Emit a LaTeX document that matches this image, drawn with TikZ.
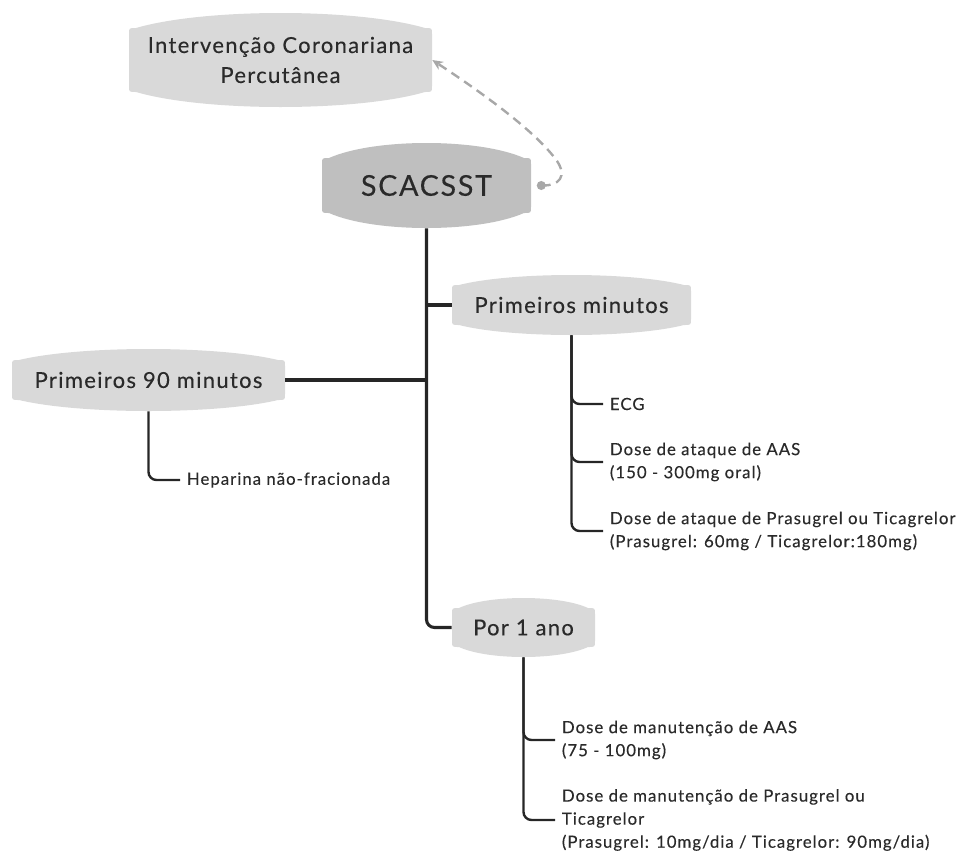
\documentclass[tikz,border=0pt]{standalone}
\usepackage{fontspec}
\setmainfont{Lato}[LetterSpace=6, FakeBold=0.25]
\usetikzlibrary{arrows.meta,calc}

\definecolor{topicfill}{HTML}{D9D9D9}
\definecolor{rootfill}{HTML}{BFBFBF}
\definecolor{inkdark}{HTML}{2A2A2A}
\definecolor{branchline}{HTML}{262626}
\definecolor{relgray}{HTML}{A8A8A8}

\tikzset{
  topictext/.style={inner sep=0pt, text=inkdark, align=center},
  maintopic/.style={font=\fontsize{16.5pt}{22.5pt}\selectfont},
  roottopic/.style={font=\fontsize{21.5pt}{26pt}\selectfont},
  leaftext/.style={anchor=west, inner xsep=5pt, inner ysep=0pt, text=inkdark,
    align=left, font=\fontsize{12.6pt}{17.3pt}\selectfont},
  trunkline/.style={draw=branchline, line width=2.3pt, rounded corners=6pt},
  leafline/.style={draw=branchline, line width=1.8pt, rounded corners=6pt},
  relline/.style={draw=relgray, line width=1.8pt, dash pattern=on 7pt off 4.5pt,
    -{Stealth[length=8pt,width=7pt]}},
}

% Topic: flat-sided box with softly bulging top and bottom edges.
% #1 name, #2 cx, #3 cy, #4 half width, #5 half side height, #6 bulge,
% #7 fill, #8 font style, #9 text  (all lengths in px units)
\newcommand\topicnode[9]{%
  \fill[#7] ({#2-#4},{#3-#5+6}) -- ({#2-#4},{#3+#5-6})
    .. controls ({#2-#4},{#3+#5}) .. ({#2-#4+7},{#3+#5})
    .. controls ({#2-#4/2},{#3+#5+4*#6/3}) and ({#2+#4/2},{#3+#5+4*#6/3}) .. ({#2+#4-7},{#3+#5})
    .. controls ({#2+#4},{#3+#5}) .. ({#2+#4},{#3+#5-6})
    -- ({#2+#4},{#3-#5+6})
    .. controls ({#2+#4},{#3-#5}) .. ({#2+#4-7},{#3-#5})
    .. controls ({#2+#4/2},{#3-#5-4*#6/3}) and ({#2-#4/2},{#3-#5-4*#6/3}) .. ({#2-#4+7},{#3-#5})
    .. controls ({#2-#4},{#3-#5}) .. cycle;
  \node[topictext, #8, minimum width={2*#4*0.75pt}, minimum height={2*(#5+#6)*0.75pt}]
    (#1) at (#2,#3) {#9};
}

\begin{document}
\begin{tikzpicture}[x=0.75pt, y=-0.75pt]
\useasboundingbox (0,0) rectangle (964,850);

% topics
\topicnode{ic}{280.5}{60}{151.5}{32}{15}{topicfill}{maintopic}{Intervenção Coronariana\\Percutânea}
\topicnode{scac}{426.5}{185.5}{104.5}{27.5}{15}{rootfill}{roottopic}{SCACSST}
\topicnode{pm}{571.5}{305}{119.5}{20}{10}{topicfill}{maintopic}{Primeiros minutos}
\topicnode{p90}{148.5}{380}{136.5}{20}{11}{topicfill}{maintopic}{Primeiros 90 minutos}
\topicnode{por}{523.5}{627.5}{71.5}{19.5}{10}{topicfill}{maintopic}{Por 1 ano}

% leaves
\node[leaftext] (ecg) at (603,404) {ECG};
\node[leaftext] (aas) at (603,462) {Dose de ataque de AAS\\(150 - 300mg oral)};
\node[leaftext] (pras) at (603,531) {Dose de ataque de Prasugrel ou Ticagrelor\\(Prasugrel: 60mg / Ticagrelor:180mg)};
\node[leaftext] (hep) at (180,480) {Heparina não-fracionada};
\node[leaftext] (maas) at (555,740) {Dose de manutenção de AAS\\(75 - 100mg)};
\node[leaftext] (mpras) at (555,820) {Dose de manutenção de Prasugrel ou\\Ticagrelor\\(Prasugrel: 10mg/dia / Ticagrelor: 90mg/dia)};

% main branches
\draw[trunkline] (scac.south) |- (por.west);
\draw[trunkline] (pm.west) -- (pm.west -| scac.south);
\draw[trunkline] (p90.east) -- (p90.east -| scac.south);

% leaf branches
\draw[leafline] (pm.south) |- (ecg.west);
\draw[leafline] (pm.south) |- (aas.west);
\draw[leafline] (pm.south) |- (pras.west);
\draw[leafline] (p90.south) |- (hep.west);
\draw[leafline] (por.south) |- (maas.west);
\draw[leafline] (por.south) |- (mpras.west);

% relationship
\coordinate (reldot) at ($(scac.east)+(10,0)$);
\fill[relgray] (reldot) circle (3.4pt);
\draw[relline] (reldot) .. controls (560,186) and (567,176) .. (557,161)
  .. controls (535,130) and (475,88) .. (ic.east);
\end{tikzpicture}
\end{document}
